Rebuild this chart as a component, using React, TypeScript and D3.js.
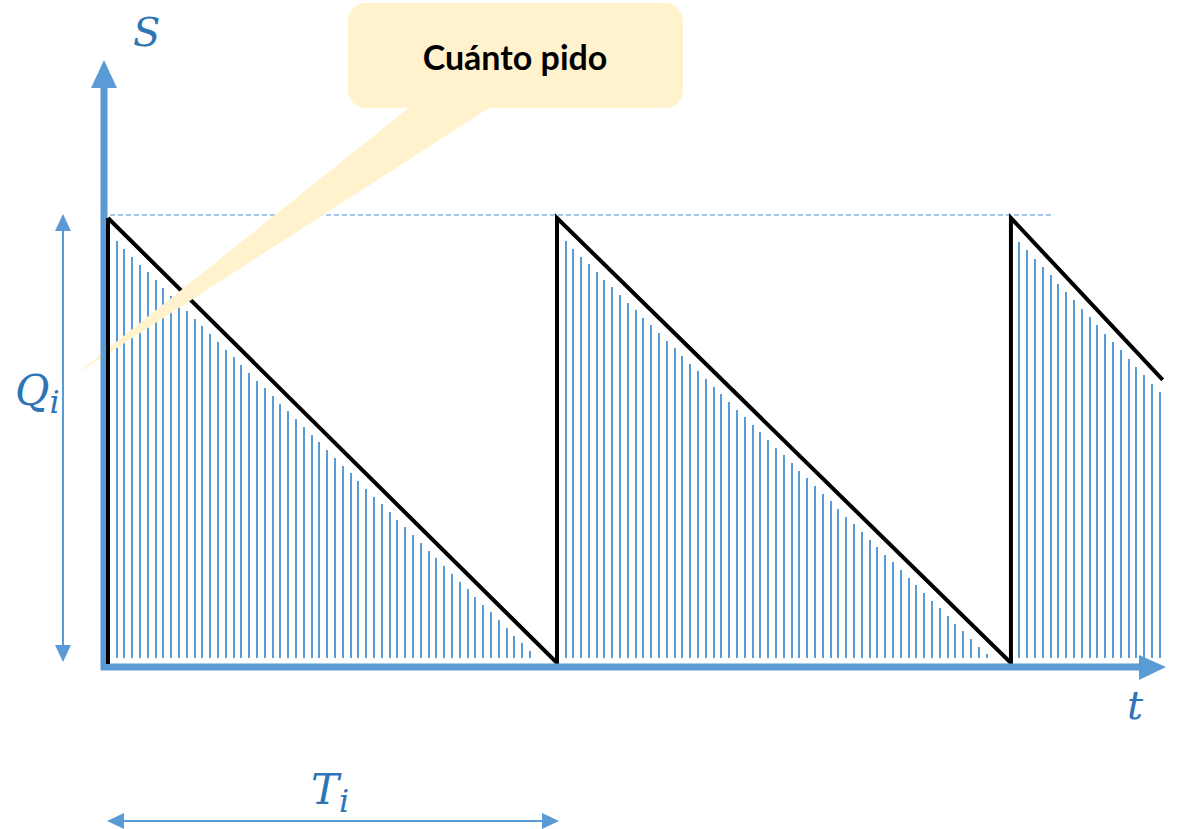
import React from "react";
import * as d3 from "d3";

// Sawtooth inventory curve (t in cycle units, s as fraction of Q)
const sawT = [0, 0, 1, 1, 2.011, 2.011, 2.349];
const sawS = [0, 1, 0, 1, 0, 1, 0.636];
// cycles: start time of each cycle (peak) and end time
const cycleStart = [0, 1, 2.011];
const cycleEnd = [1, 2.011, 2.349];
const cycleEndS = [0, 0, 0.636];
const labels = { s: "S", t: "t", q: "Q", qSub: "i", T: "T", tSub: "i", callout: "Cuánto pido" };

const W = 1179, H = 829;
const AX = "#5B9BD5";
const TXT = "#2E75B6";

export default function App() {
  const x = d3.scaleLinear().domain([0, 1]).range([108, 557]);
  const y = d3.scaleLinear().domain([0, 1]).range([663, 218]);

  const pts: [number, number][] = sawT.map((t, i) => [x(t), y(sawS[i])]);
  const line = d3.line()(pts.slice(1)) as string;

  // hatch lines
  const hatches: { x: number; y1: number; y2: number }[] = [];
  cycleStart.forEach((c, i) => {
    const x0 = x(c), x1 = x(cycleEnd[i]);
    const ya = y(1), yb = y(cycleEndS[i]);
    for (let hx = x0 + 8.5; hx < x1 - 1; hx += 7.8) {
      const yd = ya + ((hx - x0) / (x1 - x0)) * (yb - ya);
      const top = yd + 15;
      if (top < 657) hatches.push({ x: Math.round(hx), y1: top, y2: 658 });
    }
  });

  const xAxisY = 667;
  const yAxisX = 104;
  const mathFont = "'DejaVu Serif', serif";

  return (
    <svg width={W} height={H} style={{ position: "absolute", left: 0, top: 0 }}>
      <rect width={W} height={H} fill="#fff" />
      {/* dashed Q level */}
      <line x1={110} x2={1053} y1={y(1) - 3} y2={y(1) - 3} stroke="#8DB6E2" strokeWidth={1.3} strokeDasharray="5,3" />
      {hatches.map((h, i) => (
        <line key={i} x1={h.x} x2={h.x} y1={h.y1} y2={h.y2} stroke={AX} strokeWidth={2} shapeRendering="crispEdges" />
      ))}
      <path d={line} fill="none" stroke="#000" strokeWidth={4} strokeLinejoin="miter" />
      {/* callout */}
      <path d="M 411 106 L 75 375 L 492 106 Z" fill="#FFF2CC" />
      <rect x={348} y={3} width={335} height={105} rx={18} fill="#FFF2CC" />
      <text x={515} y={70} textAnchor="middle" fontFamily="Lato, 'Open Sans', sans-serif" fontWeight={700} fontSize={34} fill="#000">
        {labels.callout}
      </text>
      {/* axes */}
      <line x1={yAxisX} x2={yAxisX} y1={xAxisY + 3} y2={85} stroke={AX} strokeWidth={7} />
      <path d={`M ${yAxisX - 13} 88 L ${yAxisX} 60 L ${yAxisX + 13} 88 Z`} fill={AX} />
      <line x1={yAxisX - 3} x2={1142} y1={xAxisY} y2={xAxisY} stroke={AX} strokeWidth={7} />
      <path d={`M 1139 655 L 1166 ${xAxisY} L 1139 680 Z`} fill={AX} />
      {/* first vertical black */}
      <line x1={x(0)} x2={x(0)} y1={y(0) + 1} y2={y(1)} stroke="#000" strokeWidth={4} />
      {/* Q arrow */}
      <line x1={63} x2={63} y1={225} y2={652} stroke={AX} strokeWidth={2} />
      <path d="M 55 231 L 63 214 L 71 231 Z" fill={AX} />
      <path d="M 55 645 L 63 662 L 71 645 Z" fill={AX} />
      {/* T arrow */}
      <line x1={118} x2={548} y1={821} y2={821} stroke={AX} strokeWidth={2} />
      <path d="M 124 813 L 107 821 L 124 829 Z" fill={AX} />
      <path d="M 542 813 L 559 821 L 542 829 Z" fill={AX} />
      {/* labels */}
      <text x={133} y={46} fontFamily={mathFont} fontStyle="italic" fontSize={40} fill={TXT}>{labels.s}</text>
      <text x={1127} y={719} fontFamily={mathFont} fontStyle="italic" fontSize={40} fill={TXT}>{labels.t}</text>
      <text x={15} y={405} fontFamily={mathFont} fontStyle="italic" fontSize={42} fill={TXT}>
        {labels.q}
        <tspan fontSize={32} dy={8}>{labels.qSub}</tspan>
      </text>
      <text x={311} y={804} fontFamily={mathFont} fontStyle="italic" fontSize={42} fill={TXT}>
        {labels.T}
        <tspan fontSize={32} dy={8}>{labels.tSub}</tspan>
      </text>
    </svg>
  );
}
